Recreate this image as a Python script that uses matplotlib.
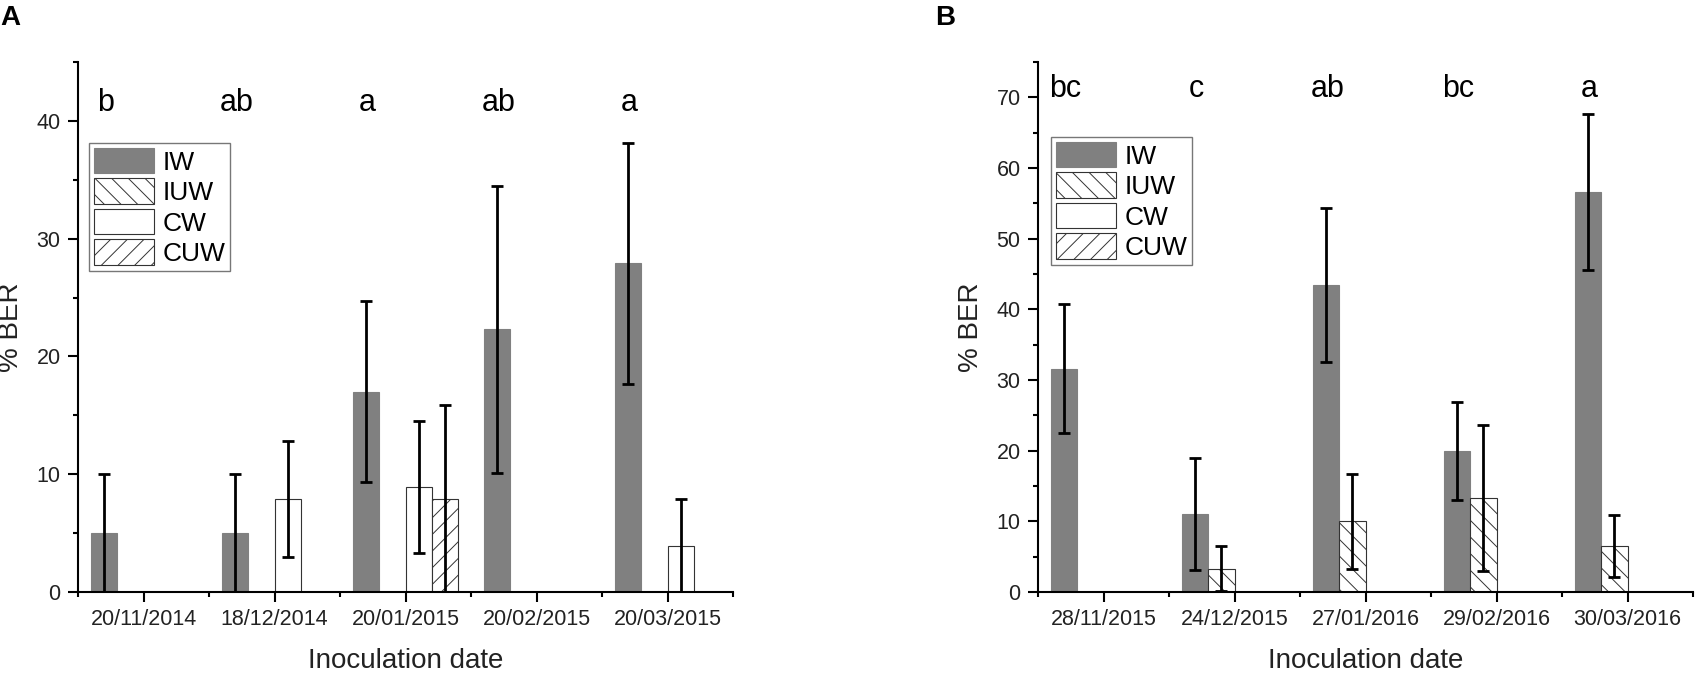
import numpy as np
import matplotlib
matplotlib.use("Agg")
import matplotlib.pyplot as plt
from matplotlib.patches import Patch
from matplotlib.ticker import MultipleLocator, FixedLocator

plt.rcParams['font.family'] = ['Liberation Sans', 'DejaVu Sans']
plt.rcParams['hatch.linewidth'] = 0.7

nan = np.nan

# ---------------- data ----------------
series = ['IW', 'IUW', 'CW', 'CUW']

dates_A = ['20/11/2014', '18/12/2014', '20/01/2015', '20/02/2015', '20/03/2015']
A_IW = [5.0, 5.0, 17.0, 22.3, 27.9]
A_IW_err = [5.0, 5.0, 7.7, 12.2, 10.2]
A_IUW = [nan, nan, nan, nan, nan]
A_IUW_err = [nan, nan, nan, nan, nan]
A_CW = [nan, 7.9, 8.9, nan, 3.9]
A_CW_err = [nan, 4.9, 5.6, nan, 4.0]
A_CUW = [nan, nan, 7.9, nan, nan]
A_CUW_err = [nan, nan, 8.0, nan, nan]
letters_A = ['b', 'ab', 'a', 'ab', 'a']

dates_B = ['28/11/2015', '24/12/2015', '27/01/2016', '29/02/2016', '30/03/2016']
B_IW = [31.6, 11.0, 43.4, 19.9, 56.6]
B_IW_err = [9.1, 7.9, 10.9, 6.95, 11.1]
B_IUW = [nan, 3.3, 10.0, 13.3, 6.5]
B_IUW_err = [nan, 3.2, 6.7, 10.3, 4.4]
B_CW = [nan, nan, nan, nan, nan]
B_CW_err = [nan, nan, nan, nan, nan]
B_CUW = [nan, nan, nan, nan, nan]
B_CUW_err = [nan, nan, nan, nan, nan]
letters_B = ['bc', 'c', 'ab', 'bc', 'a']

# ---------------- style ----------------
GRAY = '#808080'
EDGE = '#333333'
styles = {
    'IW': dict(facecolor=GRAY, edgecolor=GRAY, hatch=None, linewidth=0.8),
    'IUW': dict(facecolor='white', edgecolor=EDGE, hatch='\\\\', linewidth=0.8),
    'CW': dict(facecolor='white', edgecolor=EDGE, hatch=None, linewidth=0.8),
    'CUW': dict(facecolor='white', edgecolor=EDGE, hatch='//', linewidth=0.8),
}
offsets = [-0.3, -0.1, 0.1, 0.3]
width = 0.2

fig = plt.figure(figsize=(17.01, 6.78), dpi=100)
W, H = 1701, 678
axA = fig.add_axes([78 / W, 1 - 592 / H, 655 / W, 530 / H])
axB = fig.add_axes([1038 / W, 1 - 592 / H, 655 / W, 530 / H])


def panel(ax, dates, vals, errs, letters, ymax, letter_y, legend_xy):
    x = np.arange(len(dates))
    for k, name in enumerate(series):
        v = np.array(vals[k], dtype=float)
        e = np.array(errs[k], dtype=float)
        st = styles[name]
        ax.bar(x + offsets[k], np.nan_to_num(v), width, zorder=2, **st)
        ok = ~np.isnan(v)
        if ok.any():
            ax.errorbar(x[ok] + offsets[k], v[ok], yerr=e[ok], fmt='none',
                        ecolor='black', elinewidth=2.0, capsize=4.3,
                        capthick=2.0, zorder=3)
    for i, t in enumerate(letters):
        ax.text(i - 0.29, letter_y, t, ha='center', va='baseline',
                fontsize=22, color='black')
    ax.set_xlim(-0.5, len(dates) - 0.5)
    ax.set_ylim(0, ymax)
    ax.set_xticks(x)
    ax.set_xticklabels(dates, fontsize=15.5)
    ax.xaxis.set_minor_locator(FixedLocator(np.arange(len(dates) + 1) - 0.5))
    ax.yaxis.set_major_locator(MultipleLocator(10))
    ax.yaxis.set_minor_locator(MultipleLocator(5))
    ax.tick_params(axis='both', which='major', direction='out', length=7,
                   width=1.5, labelsize=15.5, pad=5.5, colors='black')
    ax.tick_params(axis='both', which='minor', direction='out', length=3.5,
                   width=1.5)
    ax.tick_params(axis='y', labelcolor='#222222')
    ax.tick_params(axis='x', labelcolor='#222222')
    for s in ['top', 'right']:
        ax.spines[s].set_visible(False)
    for s in ['left', 'bottom']:
        ax.spines[s].set_linewidth(1.5)
    ax.set_xlabel('Inoculation date', fontsize=20, labelpad=13, color='#222222')
    ax.set_ylabel('% BER', fontsize=20, labelpad=9, color='#222222')
    handles = [Patch(label=n, **styles[n]) for n in series]
    leg = ax.legend(handles=handles, loc='upper left',
                    bbox_to_anchor=legend_xy, bbox_transform=fig.transFigure,
                    borderaxespad=0, fontsize=19, frameon=True, fancybox=False,
                    handlelength=2.3, handleheight=1.12, handletextpad=0.3,
                    labelspacing=0.14, borderpad=0.18)
    leg.get_frame().set_edgecolor('#555555')
    leg.get_frame().set_linewidth(1.0)


panel(axA, dates_A, [A_IW, A_IUW, A_CW, A_CUW],
      [A_IW_err, A_IUW_err, A_CW_err, A_CUW_err], letters_A,
      45, 40.8, (89 / W, 1 - 143 / H))
panel(axB, dates_B, [B_IW, B_IUW, B_CW, B_CUW],
      [B_IW_err, B_IUW_err, B_CW_err, B_CUW_err], letters_B,
      75, 70.1, (1051 / W, 1 - 137 / H))

fig.text(0 / W, 1 - 5 / H, 'A', fontsize=20, fontweight='bold', ha='left', va='top')
fig.text(935 / W, 1 - 5 / H, 'B', fontsize=20, fontweight='bold', ha='left', va='top')

fig.savefig('out.png', dpi=100)
